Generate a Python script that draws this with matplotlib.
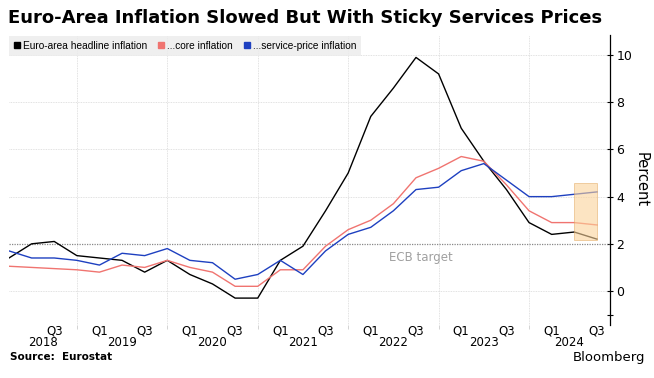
import matplotlib
matplotlib.use("Agg")
import matplotlib.pyplot as plt
from matplotlib.lines import Line2D
from matplotlib.patches import Rectangle
from matplotlib.transforms import blended_transform_factory

# quarterly observations, Q1 2018 .. Q3 2024
quarters = [f"Q{q} {y}" for y in range(2018, 2025) for q in range(1, 5)][:27]
headline = [1.4, 2.0, 2.1, 1.5, 1.4, 1.3, 0.8, 1.3, 0.7, 0.3, -0.3, -0.3,
            1.3, 1.9, 3.4, 5.0, 7.4, 8.6, 9.9, 9.2, 6.9, 5.5, 4.3, 2.9,
            2.4, 2.5, 2.2]
core = [1.05, 1.0, 0.95, 0.9, 0.8, 1.1, 1.0, 1.3, 1.0, 0.8, 0.2, 0.2,
        0.9, 0.9, 1.9, 2.6, 3.0, 3.7, 4.8, 5.2, 5.7, 5.5, 4.5, 3.4,
        2.9, 2.9, 2.8]
services = [1.7, 1.4, 1.4, 1.3, 1.1, 1.6, 1.5, 1.8, 1.3, 1.2, 0.5, 0.7,
            1.3, 0.7, 1.7, 2.4, 2.7, 3.4, 4.3, 4.4, 5.1, 5.4, 4.7, 4.0,
            4.0, 4.1, 4.2]
years = [2018, 2019, 2020, 2021, 2022, 2023, 2024]
y_ticks = [0, 2, 4, 6, 8, 10]

BLACK = "#000000"
RED = "#f07470"
BLUE = "#1e40c0"
W, H = 654, 378

fig = plt.figure(figsize=(W / 100, H / 100), dpi=100)
ax = fig.add_axes([9 / W, 1 - 325 / H, (610 - 9) / W, (325 - 35) / H])

x = list(range(len(quarters)))
ax.plot(x, headline, color=BLACK, lw=1.0, zorder=3)
ax.plot(x, core, color=RED, lw=1.0, zorder=3)
ax.plot(x, services, color=BLUE, lw=1.0, zorder=3)

# highlight box over the last two quarters
ax.add_patch(Rectangle((24.98, 2.15), 1.04, 2.42, facecolor="#fbd39a", alpha=0.6,
                       edgecolor="#e3a860", lw=0.6, zorder=4))

ax.set_xlim(0, 26.58)
ax.set_ylim(-1.44, 10.85)

# grid
for v in y_ticks:
    if v != 2:
        ax.axhline(v, color="#d8d8d8", lw=0.6, ls=(0, (1, 1)), zorder=1)
ax.axhline(2, color="#888888", lw=0.9, ls=(0, (1, 1)), zorder=2)
year_bounds = [i for i, q in enumerate(quarters) if q.startswith("Q4")]
for b in year_bounds:
    ax.axvline(b, color="#d8d8d8", lw=0.6, ls=(0, (1, 1)), zorder=1)

ax.text(18.2, 1.44, "ECB target", color="#a0a0a0", fontsize=8.5,
        ha="center", va="center")

# spines / y axis on the right
for s in ["left", "top", "bottom"]:
    ax.spines[s].set_visible(False)
ax.spines["right"].set_linewidth(0.9)
ax.yaxis.tick_right()
ax.yaxis.set_label_position("right")
ax.set_yticks(y_ticks)
ax.set_yticks([-1], minor=True)
ax.tick_params(axis="y", which="both", direction="inout", length=5, width=0.8,
               labelsize=9, pad=2)
ax.set_ylabel("Percent", rotation=270, labelpad=12, fontsize=10.5)

# x axis: quarter labels and centred year labels
tick_pos = [i for i, q in enumerate(quarters) if q[:2] in ("Q1", "Q3") and i >= 2]
ax.set_xticks(tick_pos)
ax.set_xticklabels([quarters[i][:2] for i in tick_pos], fontsize=8.5)
ax.set_xticks(year_bounds, minor=True)
ax.tick_params(axis="x", which="major", length=0, pad=0)
ax.tick_params(axis="x", which="minor", length=3, color="#cccccc", width=0.6)

trans = blended_transform_factory(ax.transData, fig.transFigure)
lo, hi = ax.get_xlim()
for k, yr in enumerate(years):
    start = max(lo, -1 + 4 * k)
    end = min(hi, 3 + 4 * k)
    ax.text((start + end) / 2, 1 - 343 / H, str(yr), transform=trans,
            ha="center", va="center", fontsize=8.5)

# legend
handles = [Line2D([], [], marker="s", ls="none", color=c, markersize=5)
           for c in (BLACK, RED, BLUE)]
leg = ax.legend(handles, ["Euro-area headline inflation", "...core inflation",
                          "...service-price inflation"],
                loc="upper left", bbox_to_anchor=(0, 0.995), ncol=3,
                prop={"family": "Liberation Sans", "size": 7.3},
                frameon=True, fancybox=False, handlelength=0.6, handletextpad=0.3,
                columnspacing=1.1, borderpad=0.45, borderaxespad=0)
leg.get_frame().set_facecolor("#ececec")
leg.get_frame().set_edgecolor("none")
leg.set_zorder(5)

title = fig.text(8 / W, 1 - 18 / H,
                 "Euro-Area Inflation Slowed But With Sticky Services Prices",
                 fontsize=14, fontweight="bold", ha="left", va="center")
# fit title width to the reference (about 597 px)
fig.canvas.draw()
tw = title.get_window_extent().width
title.set_fontsize(14 * 597 / tw)

fig.text(10 / W, 1 - 357 / H, "Source:  Eurostat", fontsize=7.5,
         fontweight="bold", ha="left", va="center")
fig.text(645 / W, 1 - 357 / H, "Bloomberg", fontsize=9.5, ha="right",
         va="center")

fig.savefig("out.png", dpi=100)
